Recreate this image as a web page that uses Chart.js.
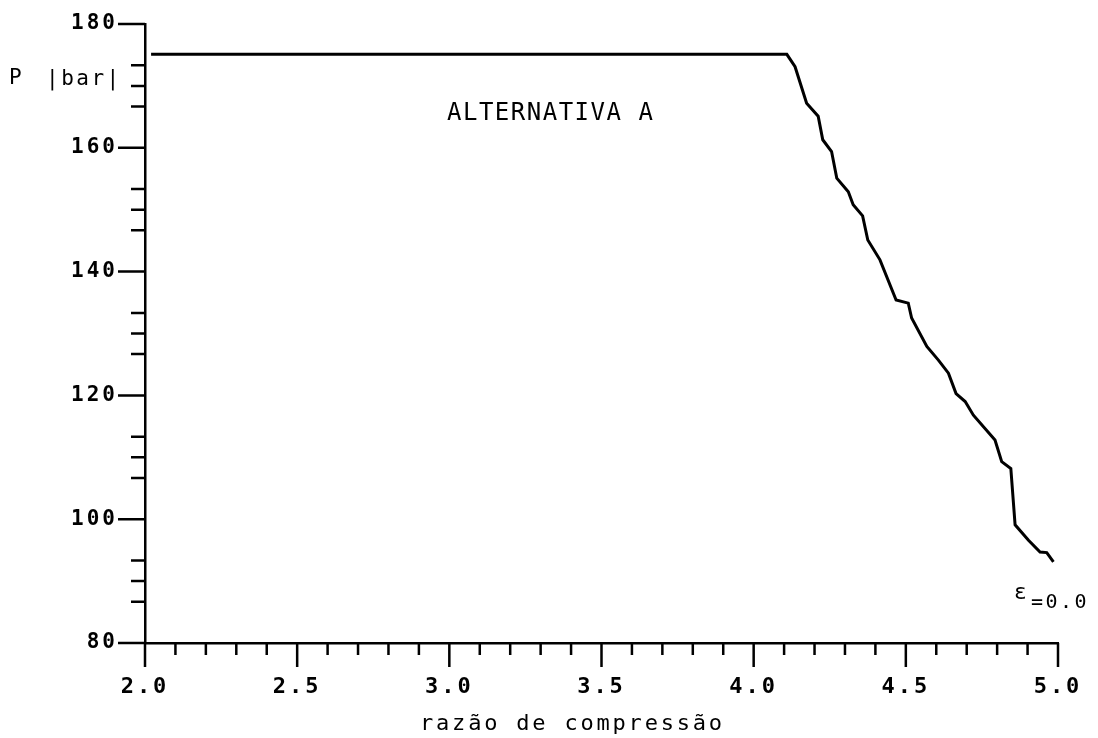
<!DOCTYPE html>
<html lang="pt">
<head>
    <meta charset="UTF-8">
    <title>Alternativa A</title>
    <script src="https://cdn.jsdelivr.net/npm/chart.js"></script>
</head>
<style>
    body { margin: 0; background: #fff; }
    .wrap { width: 1098px; height: 738px; position: relative; }
</style>
<body>
    <div class="wrap">
        <canvas id="chart" width="1098" height="738"></canvas>
    </div>

    <script>
        // razao de compressao (x) e pressao P [bar] (y)
        const razao = [2.02, 4.109, 4.136, 4.174, 4.212, 4.227, 4.256, 4.273, 4.311, 4.327, 4.358,
                       4.375, 4.415, 4.468, 4.508, 4.519, 4.569, 4.607, 4.640, 4.665, 4.695,
                       4.722, 4.793, 4.815, 4.845, 4.859, 4.903, 4.941, 4.963, 4.985];
        const pressao = [175.1, 175.1, 173.1, 167.2, 165.1, 161.3, 159.4, 155.1, 152.9, 150.8, 149.0,
                         145.1, 141.9, 135.4, 134.9, 132.5, 127.9, 125.7, 123.6, 120.3, 119.0,
                         116.8, 112.8, 109.3, 108.2, 99.1, 96.6, 94.7, 94.6, 93.1];

        const yMajor = [80, 100, 120, 140, 160, 180];
        const yMinorOffsets = [6.67, 10, 13.33]; // tracinhos entre os valores principais
        const xMin = 2.0, xMax = 5.0, xStep = 0.1;

        const monoFont = '"DejaVu Sans Mono", monospace';

        const isMajorX = v => Math.abs(v * 2 - Math.round(v * 2)) < 1e-6;
        const isMajorY = v => yMajor.some(m => Math.abs(m - v) < 1e-6);

        const data = razao.map((x, i) => ({ x: x, y: pressao[i] }));

        // desenha os tracinhos dos eixos e os textos
        const plotterPlugin = {
            id: 'plotter',
            beforeDraw(chart) {
                chart.ctx.letterSpacing = '3px';
            },
            afterDraw(chart) {
                const ctx = chart.ctx;
                const xs = chart.scales.x, ys = chart.scales.y;
                const left = chart.chartArea.left, bottom = chart.chartArea.bottom;
                ctx.save();
                ctx.strokeStyle = '#000';
                ctx.lineWidth = 2.5;
                ctx.beginPath();
                ys.ticks.forEach(t => {
                    const py = ys.getPixelForValue(t.value);
                    const len = isMajorY(t.value) ? 27 : 14;
                    ctx.moveTo(left - len, py);
                    ctx.lineTo(left, py);
                });
                xs.ticks.forEach(t => {
                    const px = xs.getPixelForValue(t.value);
                    const len = isMajorX(t.value) ? 24 : 12;
                    ctx.moveTo(px, bottom);
                    ctx.lineTo(px, bottom + len);
                });
                ctx.stroke();

                ctx.fillStyle = '#000';
                ctx.textBaseline = 'middle';

                ctx.letterSpacing = '1.5px';
                ctx.font = '24px ' + monoFont;
                ctx.textAlign = 'left';
                ctx.fillText('ALTERNATIVA A', 447, 114);

                ctx.letterSpacing = '1px';
                ctx.font = '21px ' + monoFont;
                ctx.fillText('P', 9, 79);
                ctx.letterSpacing = '2.5px';
                ctx.fillText('|bar|', 46, 80);

                ctx.letterSpacing = '2.8px';
                ctx.font = '22px ' + monoFont;
                ctx.fillText('razão de compressão', 420, 724);

                ctx.letterSpacing = '0px';
                ctx.font = '21px ' + monoFont;
                ctx.fillText('ε', 1014, 594);
                ctx.font = '20px ' + monoFont;
                ctx.letterSpacing = '2.5px';
                ctx.fillText('=0.0', 1031, 603);
                ctx.restore();
                ctx.letterSpacing = '0px';
            }
        };

        const ctx = document.getElementById('chart').getContext('2d');

        const chart = new Chart(ctx, {
            type: 'line',
            data: {
                datasets: [{
                    data: data,
                    borderColor: '#000',
                    borderWidth: 3,
                    pointRadius: 0,
                    tension: 0,
                    fill: false
                }]
            },
            options: {
                responsive: false,
                animation: false,
                events: [],
                layout: { padding: { top: 24, right: 40, left: 0, bottom: 0 } },
                plugins: {
                    legend: { display: false },
                    tooltip: { enabled: false }
                },
                scales: {
                    x: {
                        type: 'linear',
                        min: xMin,
                        max: xMax,
                        afterFit: s => { s.height = 95; },
                        afterBuildTicks: s => {
                            const t = [];
                            for (let i = 0; i <= Math.round((xMax - xMin) / xStep); i++) {
                                t.push({ value: +(xMin + i * xStep).toFixed(1) });
                            }
                            s.ticks = t;
                        },
                        border: { display: true, color: '#000', width: 2.5 },
                        grid: {
                            drawOnChartArea: false,
                            drawTicks: true,
                            tickLength: 24,
                            tickColor: 'rgba(0,0,0,0)'
                        },
                        ticks: {
                            autoSkip: false,
                            maxRotation: 0,
                            padding: 7,
                            color: '#000',
                            font: { family: monoFont, size: 22, weight: 'bold' },
                            callback: v => isMajorX(v) ? v.toFixed(1) : ''
                        }
                    },
                    y: {
                        min: yMajor[0],
                        max: yMajor[yMajor.length - 1],
                        afterFit: s => { s.width = 145; },
                        afterBuildTicks: s => {
                            const t = [];
                            yMajor.forEach((m, i) => {
                                t.push({ value: m });
                                if (i < yMajor.length - 1) {
                                    yMinorOffsets.forEach(o => t.push({ value: m + o }));
                                }
                            });
                            s.ticks = t;
                        },
                        border: { display: true, color: '#000', width: 2.5 },
                        grid: {
                            drawOnChartArea: false,
                            drawTicks: true,
                            tickLength: 27,
                            tickColor: 'rgba(0,0,0,0)'
                        },
                        ticks: {
                            autoSkip: false,
                            padding: 0,
                            color: '#000',
                            font: { family: monoFont, size: 21, weight: 'bold' },
                            callback: v => isMajorY(v) ? String(v) : ''
                        }
                    }
                }
            },
            plugins: [plotterPlugin]
        });
    </script>
</body>
</html>
